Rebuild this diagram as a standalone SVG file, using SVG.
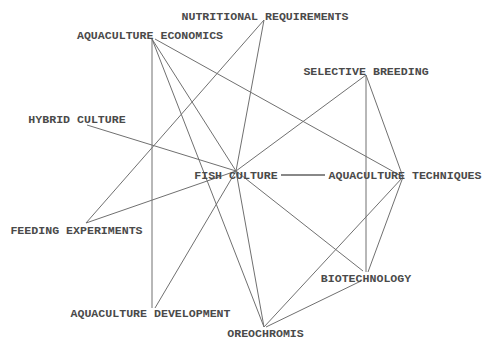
<svg xmlns="http://www.w3.org/2000/svg" width="482" height="339" viewBox="0 0 482 339">
<style>
.e{stroke:#707070;stroke-width:1;fill:none}
.t{font-family:"Liberation Mono","DejaVu Sans Mono",monospace;font-size:11.6px;font-weight:bold;fill:#4a4a4a;text-anchor:middle;dominant-baseline:central}
</style>
<rect width="482" height="339" fill="#ffffff"/>
<g id="connectors">
<line class="e" x1="152" y1="39" x2="152" y2="308"/>
<line class="e" x1="152" y1="39" x2="264" y2="327"/>
<line class="e" x1="152" y1="39" x2="236" y2="171"/>
<line class="e" x1="155" y1="39" x2="403" y2="177"/>
<line class="e" x1="264" y1="20" x2="86" y2="223"/>
<line class="e" x1="264" y1="20" x2="236" y2="171"/>
<line class="e" x1="87" y1="125" x2="236" y2="171"/>
<line class="e" x1="86" y1="223" x2="236" y2="171"/>
<line class="e" x1="155" y1="308" x2="236" y2="171"/>
<line class="e" x1="236" y1="171" x2="264" y2="327"/>
<line class="e" x1="236" y1="171" x2="363" y2="271"/>
<line x1="281" y1="175" x2="325" y2="175" stroke="#606060" stroke-width="1.6"/>
<line class="e" x1="366" y1="75" x2="236" y2="171"/>
<line class="e" x1="366" y1="75" x2="403" y2="177"/>
<line class="e" x1="366" y1="75" x2="366" y2="272"/>
<line class="e" x1="403" y1="177" x2="368" y2="272"/>
<line class="e" x1="403" y1="177" x2="264" y2="327"/>
<line class="e" x1="361" y1="281" x2="266" y2="327"/>
</g>
<g id="n-nutritional"><text class="t" x="265" y="16">NUTRITIONAL REQUIREMENTS</text></g>
<g id="n-economics"><text class="t" x="150" y="35">AQUACULTURE ECONOMICS</text></g>
<g id="n-selective"><text class="t" x="366" y="71">SELECTIVE BREEDING</text></g>
<g id="n-hybrid"><text class="t" x="77" y="119">HYBRID CULTURE</text></g>
<g id="n-fish"><text class="t" x="236" y="175">FISH CULTURE</text></g>
<g id="n-techniques"><text class="t" x="405" y="175">AQUACULTURE TECHNIQUES</text></g>
<g id="n-feeding"><text class="t" x="76.5" y="230">FEEDING EXPERIMENTS</text></g>
<g id="n-biotech"><text class="t" x="366" y="278">BIOTECHNOLOGY</text></g>
<g id="n-development"><text class="t" x="150.5" y="313">AQUACULTURE DEVELOPMENT</text></g>
<g id="n-oreochromis"><text class="t" x="265.5" y="333">OREOCHROMIS</text></g>
</svg>
